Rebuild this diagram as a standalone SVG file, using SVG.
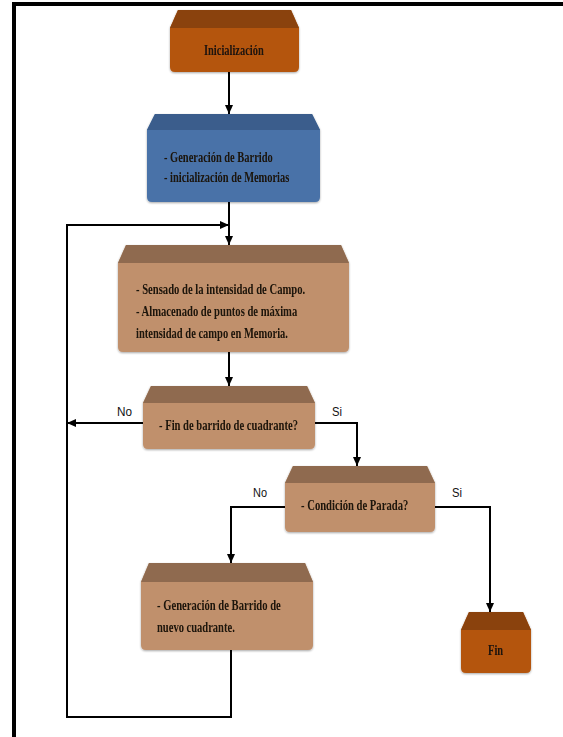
<svg xmlns="http://www.w3.org/2000/svg" width="563" height="737" viewBox="0 0 563 737">
<style>
.t{font-family:"Liberation Serif","Times New Roman",serif;font-size:15px;font-weight:bold;fill:#1a1208}
.l{font-family:"Liberation Sans",Arial,sans-serif;font-size:12.5px;fill:#111}
.c{fill:none;stroke:#000;stroke-width:2}
.or{fill:#b4550b}.ort{fill:#8a430c}
.bl{fill:#4a72a8}.blt{fill:#3b5d8c}
.tn{fill:#c0906c}.tnt{fill:#8f6b4f}
.sh{filter:url(#s)}
</style>
<defs>
<marker id="a" markerUnits="userSpaceOnUse" markerWidth="9" markerHeight="8" refX="9" refY="4" orient="auto"><path d="M0,0 L9,4 L0,8 Z" fill="#000"/></marker>
<filter id="s" x="-10%" y="-10%" width="120%" height="120%"><feGaussianBlur in="SourceAlpha" stdDeviation="1.2"/><feOffset dx="0" dy="0.5"/><feComponentTransfer><feFuncA type="linear" slope="0.35"/></feComponentTransfer><feMerge><feMergeNode/><feMergeNode in="SourceGraphic"/></feMerge></filter>
</defs>
<rect width="563" height="737" fill="#fff"/>
<path d="M14,737 V4 H563" fill="none" stroke="#000" stroke-width="4"/>
<g id="connectors">
<path class="c" d="M229,72 V114" marker-end="url(#a)"/>
<path class="c" d="M229,202 V245" marker-end="url(#a)"/>
<path class="c" d="M231,650 V717 H67 V225 H229" marker-end="url(#a)"/>
<path class="c" d="M229,352 V386" marker-end="url(#a)"/>
<path class="c" d="M143,423 H67" marker-end="url(#a)"/>
<path class="c" d="M315,423 H357 V466" marker-end="url(#a)"/>
<path class="c" d="M285,507 H231 V563" marker-end="url(#a)"/>
<path class="c" d="M435,507 H490 V612" marker-end="url(#a)"/>
<text class="l" x="117" y="416" textLength="15" lengthAdjust="spacingAndGlyphs">No</text>
<text class="l" x="332" y="416" textLength="10" lengthAdjust="spacingAndGlyphs">Si</text>
<text class="l" x="253" y="497" textLength="14" lengthAdjust="spacingAndGlyphs">No</text>
<text class="l" x="452" y="497" textLength="10" lengthAdjust="spacingAndGlyphs">Si</text>
</g>
<g id="n-inicializacion" class="sh">
<path class="or" d="M178,10 H291 L299,28 V67 Q299,72 294,72 H175 Q170,72 170,67 V28 Z"/>
<path class="ort" d="M178,10 H291 L299,28 H170 Z"/>
<text class="t" transform="translate(204,55) scale(0.72,1)" textLength="83" lengthAdjust="spacingAndGlyphs">Inicialización</text>
</g>
<g id="n-generacion" class="sh">
<path class="bl" d="M155,114 H312 L320,130 V197 Q320,202 315,202 H152 Q147,202 147,197 V130 Z"/>
<path class="blt" d="M155,114 H312 L320,130 H147 Z"/>
<text class="t" transform="translate(164,162) scale(0.72,1)" textLength="151" lengthAdjust="spacingAndGlyphs">- Generación  de Barrido</text>
<text class="t" transform="translate(164,182) scale(0.72,1)" textLength="174" lengthAdjust="spacingAndGlyphs">- inicialización  de Memorias</text>
</g>
<g id="n-sensado" class="sh">
<path class="tn" d="M126,245 H341 L349,263 V347 Q349,352 344,352 H123 Q118,352 118,347 V263 Z"/>
<path class="tnt" d="M126,245 H341 L349,263 H118 Z"/>
<text class="t" transform="translate(136,294) scale(0.72,1)" textLength="235" lengthAdjust="spacingAndGlyphs">- Sensado de la intensidad de Campo.</text>
<text class="t" transform="translate(136,316) scale(0.72,1)" textLength="224" lengthAdjust="spacingAndGlyphs">- Almacenado de puntos de máxima</text>
<text class="t" transform="translate(136,338) scale(0.72,1)" textLength="211" lengthAdjust="spacingAndGlyphs">intensidad de campo en Memoria.</text>
</g>
<g id="n-fin-barrido" class="sh">
<path class="tn" d="M151,386 H307 L315,403 V444 Q315,449 310,449 H148 Q143,449 143,444 V403 Z"/>
<path class="tnt" d="M151,386 H307 L315,403 H143 Z"/>
<text class="t" transform="translate(159,430) scale(0.72,1)" textLength="193" lengthAdjust="spacingAndGlyphs">- Fin de barrido de cuadrante?</text>
</g>
<g id="n-condicion" class="sh">
<path class="tn" d="M293,466 H427 L435,483 V527 Q435,532 430,532 H290 Q285,532 285,527 V483 Z"/>
<path class="tnt" d="M293,466 H427 L435,483 H285 Z"/>
<text class="t" transform="translate(301,510) scale(0.72,1)" textLength="149" lengthAdjust="spacingAndGlyphs">- Condición de Parada?</text>
</g>
<g id="n-nuevo" class="sh">
<path class="tn" d="M149,563 H305 L313,582 V645 Q313,650 308,650 H146 Q141,650 141,645 V582 Z"/>
<path class="tnt" d="M149,563 H305 L313,582 H141 Z"/>
<text class="t" transform="translate(157,610) scale(0.72,1)" textLength="172" lengthAdjust="spacingAndGlyphs">- Generación  de Barrido de</text>
<text class="t" transform="translate(157,632) scale(0.72,1)" textLength="108" lengthAdjust="spacingAndGlyphs">nuevo cuadrante.</text>
</g>
<g id="n-fin" class="sh">
<path class="or" d="M469,612 H523 L531,630 V668 Q531,673 526,673 H466 Q461,673 461,668 V630 Z"/>
<path class="ort" d="M469,612 H523 L531,630 H461 Z"/>
<text class="t" transform="translate(488,655) scale(0.72,1)" textLength="21" lengthAdjust="spacingAndGlyphs">Fin</text>
</g>
</svg>
